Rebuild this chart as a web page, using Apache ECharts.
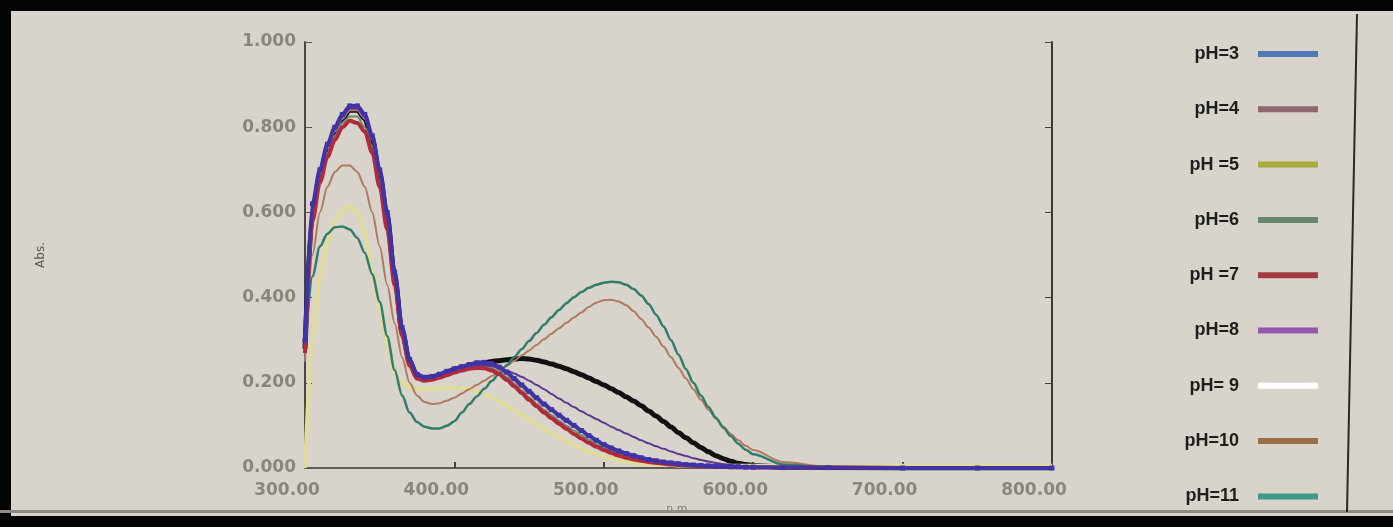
<!DOCTYPE html>
<html><head><meta charset="utf-8">
<script src="https://cdn.jsdelivr.net/npm/echarts/dist/echarts.min.js"></script>
<style>html,body{margin:0;padding:0;background:#d8d3cb}#c{width:1393px;height:527px}</style>
</head><body><div id="c"></div>
<script>
// wavelength (nm)
const wavelengths = [300,305,310,315,320,325,330,335,340,345,350,355,360,365,370,375,380,385,390,395,
  400,405,410,415,420,425,430,435,440,445,450,455,460,465,470,475,480,485,490,495,
  500,505,510,515,520,525,530,535,540,545,550,555,560,565,570,575,580,585,590,595,
  600,620,650,700,750,800];

const ph3 = [0.30,0.62,0.70,0.76,0.80,0.83,0.85,0.85,0.83,0.78,
  0.70,0.60,0.46,0.33,0.255,0.22,0.213,0.215,0.22,0.227,
  0.233,0.238,0.243,0.247,0.248,0.245,0.237,0.225,0.21,0.195,
  0.18,0.165,0.15,0.137,0.124,0.112,0.10,0.088,0.076,0.065,
  0.055,0.047,0.04,0.034,0.029,0.024,0.02,0.017,0.014,0.012,
  0.01,0.008,0.007,0.006,0.005,0.004,0.004,0.003,0.003,0.002,
  0.002,0.001,0.001,0,0,0];
const ph4 = [0.28,0.60,0.69,0.75,0.79,0.82,0.84,0.84,0.82,0.77,
  0.69,0.59,0.45,0.32,0.25,0.217,0.211,0.213,0.218,0.224,
  0.23,0.235,0.239,0.242,0.243,0.24,0.232,0.22,0.205,0.19,
  0.175,0.16,0.146,0.133,0.12,0.108,0.097,0.085,0.074,0.063,
  0.054,0.046,0.039,0.033,0.028,0.023,0.019,0.016,0.013,0.011,
  0.009,0.008,0.007,0.006,0.005,0.004,0.003,0.003,0.002,0.002,
  0.002,0.001,0.001,0,0,0];
const ph5 = [0.0,0.30,0.45,0.53,0.58,0.605,0.615,0.60,0.555,0.46,
  0.37,0.29,0.225,0.20,0.19,0.186,0.185,0.186,0.187,0.188,
  0.188,0.187,0.185,0.18,0.174,0.166,0.157,0.147,0.136,0.125,
  0.114,0.103,0.092,0.082,0.072,0.063,0.054,0.046,0.039,0.033,
  0.027,0.022,0.018,0.015,0.012,0.01,0.009,0.008,0.007,0.007,
  0.006,0.006,0.006,0.005,0.005,0.005,0.005,0.005,0.005,0.005,
  0.005,0.005,0.005,0.005,0.005,0.005];
const ph6 = [0.27,0.59,0.68,0.74,0.78,0.81,0.825,0.825,0.80,0.755,
  0.675,0.575,0.44,0.315,0.245,0.213,0.208,0.21,0.215,0.221,
  0.227,0.232,0.236,0.238,0.238,0.234,0.226,0.213,0.198,0.182,
  0.166,0.151,0.137,0.124,0.111,0.099,0.088,0.077,0.066,0.056,
  0.048,0.04,0.034,0.029,0.024,0.02,0.017,0.014,0.012,0.01,
  0.008,0.007,0.006,0.005,0.004,0.004,0.003,0.003,0.002,0.002,
  0.002,0.001,0.001,0,0,0];
const ph7 = [0.27,0.58,0.67,0.73,0.77,0.80,0.815,0.81,0.79,0.74,
  0.66,0.56,0.43,0.31,0.24,0.21,0.205,0.207,0.212,0.218,
  0.224,0.229,0.233,0.235,0.234,0.229,0.22,0.207,0.192,0.176,
  0.16,0.145,0.13,0.117,0.104,0.092,0.08,0.069,0.059,0.05,
  0.042,0.035,0.029,0.024,0.02,0.017,0.014,0.012,0.01,0.008,
  0.007,0.006,0.005,0.004,0.004,0.003,0.003,0.002,0.002,0.002,
  0.001,0.001,0.001,0,0,0];
const ph8 = [0.29,0.61,0.695,0.755,0.795,0.825,0.845,0.845,0.825,0.775,
  0.695,0.595,0.455,0.325,0.25,0.216,0.21,0.213,0.219,0.226,
  0.232,0.236,0.239,0.241,0.241,0.239,0.235,0.229,0.222,0.214,
  0.205,0.195,0.185,0.174,0.163,0.153,0.143,0.133,0.124,0.115,
  0.106,0.097,0.089,0.081,0.073,0.065,0.058,0.051,0.045,0.039,
  0.033,0.028,0.023,0.019,0.015,0.012,0.009,0.007,0.005,0.004,
  0.003,0.001,0,0,0,0];
const ph9 = [0.28,0.60,0.69,0.75,0.79,0.82,0.84,0.84,0.82,0.77,
  0.69,0.59,0.45,0.32,0.25,0.216,0.21,0.212,0.217,0.224,
  0.231,0.236,0.24,0.244,0.247,0.25,0.252,0.254,0.256,0.257,
  0.256,0.253,0.249,0.244,0.239,0.233,0.226,0.219,0.211,0.203,
  0.195,0.186,0.177,0.167,0.157,0.146,0.134,0.122,0.109,0.096,
  0.083,0.071,0.059,0.048,0.038,0.029,0.022,0.016,0.011,0.008,
  0.006,0.002,0.001,0,0,0];
const ph10 = [0.25,0.50,0.60,0.66,0.695,0.71,0.71,0.695,0.66,0.60,
  0.52,0.43,0.34,0.26,0.20,0.17,0.155,0.15,0.152,0.158,
  0.165,0.175,0.185,0.195,0.205,0.216,0.228,0.24,0.252,0.264,
  0.276,0.289,0.302,0.315,0.328,0.341,0.353,0.365,0.378,0.388,
  0.394,0.395,0.391,0.382,0.368,0.35,0.33,0.308,0.285,0.26,
  0.235,0.21,0.185,0.16,0.137,0.116,0.097,0.08,0.065,0.052,
  0.042,0.014,0.003,0.001,0,0];
const ph11 = [0.28,0.45,0.52,0.55,0.565,0.567,0.56,0.54,0.505,0.455,
  0.39,0.31,0.23,0.17,0.13,0.108,0.097,0.093,0.093,0.099,
  0.11,0.13,0.15,0.168,0.186,0.204,0.222,0.241,0.26,0.279,
  0.298,0.317,0.336,0.354,0.371,0.387,0.401,0.413,0.423,0.43,
  0.435,0.437,0.436,0.43,0.42,0.405,0.385,0.36,0.332,0.30,
  0.266,0.232,0.20,0.17,0.143,0.118,0.095,0.075,0.057,0.043,
  0.032,0.008,0.001,0,0,0];

const seriesNames = ['pH=3','pH=4','pH =5','pH=6','pH =7','pH=8','pH= 9','pH=10','pH=11'];
const seriesData = [ph3, ph4, ph5, ph6, ph7, ph8, ph9, ph10, ph11];
const legendColors = ['#4f79b8','#8c6870','#a8ac3c','#66876e','#a23b3d','#9557ab','#ffffff','#9a7147','#3d9c88'];
const lineColors = ['#3f33a6','#b0708a','#e0db98','#6d8d6a','#b02a3c','#5c3a8c','#111111','#b07a5c','#2f7d6d'];
const lineWidths = [4, 2, 4, 2, 4, 2, 5, 2, 2.5];
const zOrder = [12, 3, 2, 4, 6, 7, 1, 5, 5];
const xAxisTitle = 'n.m.';
const yAxisTitle = 'Abs.';

const chart = echarts.init(document.getElementById('c'), null, {renderer: 'canvas'});
const labelFont = {fontFamily: 'DejaVu Sans', fontSize: 17, fontWeight: 'bold', color: '#8a8581'};

const series = seriesNames.map((name, i) => ({
  name: name,
  type: 'line',
  data: wavelengths.map((w, k) => [w, seriesData[i][k]]),
  smooth: 0.3,
  smoothMonotone: 'x',
  showSymbol: i === 0,
  symbol: 'rect',
  symbolSize: 5,
  z: zOrder[i],
  color: lineColors[i],
  itemStyle: {color: lineColors[i]},
  lineStyle: {color: lineColors[i], width: lineWidths[i]},
  emphasis: {disabled: true},
  animation: false
}));

chart.setOption({
  backgroundColor: '#d8d3cb',
  animation: false,
  grid: {left: 305, right: 341, top: 42, bottom: 59},
  xAxis: {
    type: 'value', min: 300, max: 800, interval: 100,
    name: xAxisTitle, nameLocation: 'middle', nameGap: 33,
    nameTextStyle: {fontFamily: 'DejaVu Sans', fontSize: 11, color: '#7d7975'},
    axisLine: {show: true, lineStyle: {color: '#5e5b58', width: 2}},
    axisTick: {show: true, inside: true, length: 6, lineStyle: {color: '#444', width: 2}},
    axisLabel: Object.assign({formatter: v => v.toFixed(2), margin: 14, padding: [0, 36, 0, 0]}, labelFont),
    splitLine: {show: false}
  },
  yAxis: [{
    type: 'value', min: 0, max: 1, interval: 0.2,
    name: yAxisTitle, nameLocation: 'middle', nameGap: 258,
    nameTextStyle: {fontFamily: 'DejaVu Sans', fontSize: 12, color: '#5d5955'},
    axisLine: {show: true, lineStyle: {color: '#4a4846', width: 2}},
    axisTick: {show: true, inside: true, length: 7, lineStyle: {color: '#555', width: 1}},
    axisLabel: Object.assign({formatter: v => v.toFixed(3), margin: 9}, labelFont),
    splitLine: {show: false}
  }, {
    type: 'value', min: 0, max: 1, interval: 0.2, position: 'right',
    axisLine: {show: true, lineStyle: {color: '#3c3a38', width: 2}},
    axisTick: {show: true, inside: true, length: 7, lineStyle: {color: '#444', width: 1}},
    axisLabel: {show: false},
    splitLine: {show: false}
  }],
  legend: {
    orient: 'vertical', right: 75, top: 44, padding: 0,
    align: 'right', itemWidth: 60, itemHeight: 6, itemGap: 35.3,
    icon: 'rect', selectedMode: false,
    textStyle: {fontFamily: 'Liberation Sans', fontWeight: 'bold', fontSize: 18, color: '#1e1e1e', lineHeight: 20, padding: [0, 14, 0, 0]},
    data: seriesNames.map((n, i) => ({name: n, icon: 'rect', itemStyle: {color: legendColors[i], borderWidth: 0}}))
  },
  graphic: [
    {type: 'rect', shape: {x: 0, y: 0, width: 1393, height: 11}, style: {fill: '#050505'}, silent: true, z: 100},
    {type: 'rect', shape: {x: 0, y: 0, width: 11, height: 527}, style: {fill: '#050505'}, silent: true, z: 100},
    {type: 'rect', shape: {x: 0, y: 516, width: 1393, height: 11}, style: {fill: '#050505'}, silent: true, z: 100},
    {type: 'rect', shape: {x: 0, y: 510, width: 1393, height: 3}, style: {fill: '#8e8a85'}, silent: true, z: 100},
    {type: 'line', shape: {x1: 1357, y1: 14, x2: 1347, y2: 512}, style: {stroke: '#2a2a2a', lineWidth: 2}, silent: true, z: 100}
  ],
  series: series
});
</script></body></html>
